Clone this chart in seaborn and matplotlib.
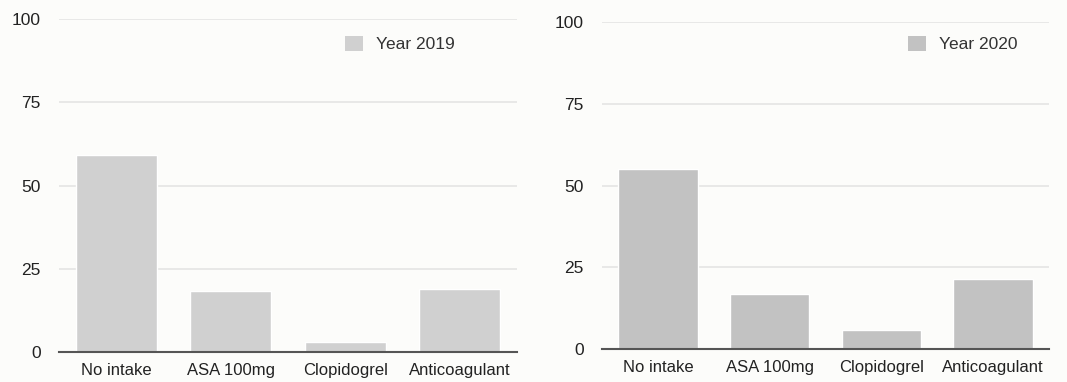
import matplotlib
matplotlib.use("Agg")
import matplotlib.pyplot as plt
from matplotlib.patches import Patch
import pandas as pd
import seaborn as sns

CATEGORIES = ["No intake", "ASA 100mg", "Clopidogrel", "Anticoagulant"]
VALUES_2019 = [59.2, 18.3, 2.9, 18.9]
VALUES_2020 = [55.1, 16.8, 5.8, 21.4]
Y_TICKS = [0, 25, 50, 75, 100]

BG = "#fcfcfa"
PANELS = [
    ("Year 2019", VALUES_2019, "#d0d0d0", [59 / 1067, 1 - 352 / 382, 458 / 1067, 333 / 382], (0.625, 0.925)),
    ("Year 2020", VALUES_2020, "#c2c2c2", [602 / 1067, 1 - 349 / 382, 447 / 1067, 327 / 382], (0.685, 0.933)),
]

sns.set_style("white")
plt.rcParams["font.family"] = ["Liberation Sans", "DejaVu Sans"]

fig = plt.figure(figsize=(10.67, 3.82), dpi=100)
fig.patch.set_facecolor(BG)

for label, values, color, rect, legend_pos in PANELS:
    ax = fig.add_axes(rect)
    ax.set_facecolor(BG)
    df = pd.DataFrame({"category": CATEGORIES, "value": values})
    sns.barplot(data=df, x="category", y="value", color=color, width=0.71,
                saturation=1, ax=ax, zorder=3)
    ax.set_ylim(0, 100)
    ax.set_xlim(-0.5, 3.5)
    ax.set_yticks(Y_TICKS)
    ax.set_xlabel("")
    ax.set_ylabel("")
    ax.grid(axis="y", color="#e4e4e4", linewidth=1.2, zorder=0)
    for s in ["top", "right", "left"]:
        ax.spines[s].set_visible(False)
    ax.spines["bottom"].set_color("#555555")
    ax.spines["bottom"].set_linewidth(1.5)
    ax.spines["bottom"].set_zorder(4)
    ax.tick_params(axis="both", length=0, labelcolor="#222222")
    ax.tick_params(axis="y", pad=13, labelsize=12.5)
    ax.tick_params(axis="x", pad=8, labelsize=12)
    ax.legend([Patch(facecolor=color, edgecolor="none")], [label],
              loc="center left", bbox_to_anchor=legend_pos, frameon=False,
              borderaxespad=0, borderpad=0,
              handlelength=1.0, handleheight=1.0, handletextpad=0.75,
              fontsize=12.5, labelcolor="#333333")

fig.savefig("out.png", dpi=100, facecolor=BG)
